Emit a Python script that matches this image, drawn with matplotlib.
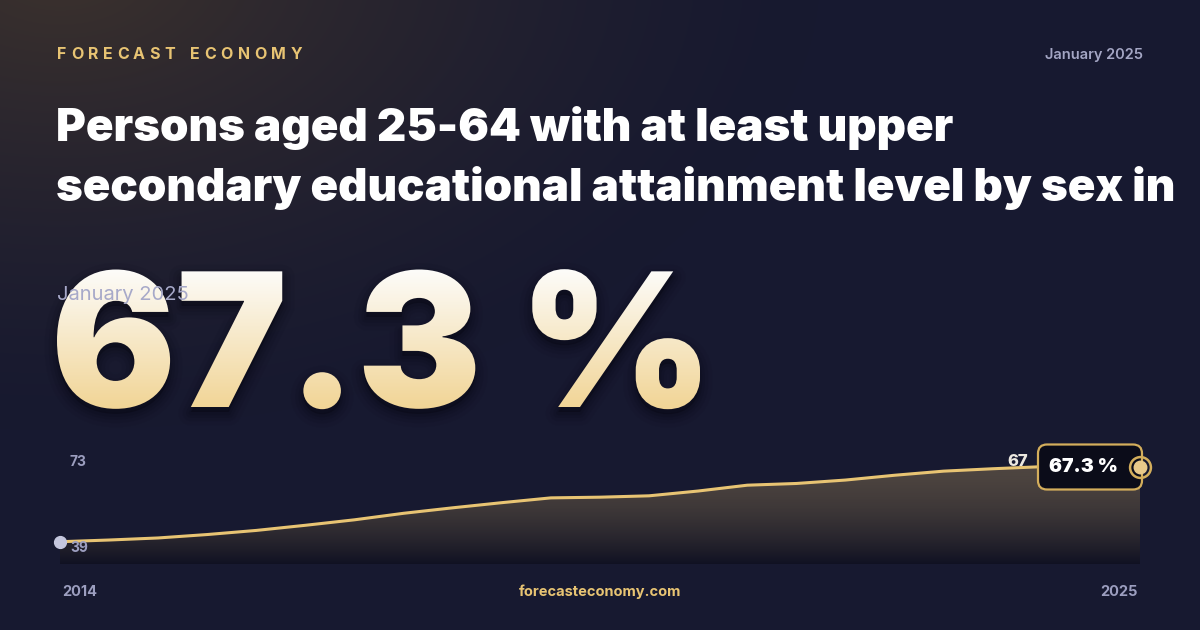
import numpy as np
import matplotlib
matplotlib.use("Agg")
import matplotlib.pyplot as plt
from matplotlib.textpath import TextPath
from matplotlib.font_manager import FontProperties
from matplotlib.patches import PathPatch, FancyBboxPatch, Polygon
from matplotlib.transforms import Affine2D

# ---------------- data ----------------
periods = ["2014-01", "2014-07", "2015-01", "2015-07", "2016-01", "2016-07",
           "2017-01", "2017-07", "2018-01", "2018-07", "2019-01", "2019-07",
           "2020-01", "2020-07", "2021-01", "2021-07", "2022-01", "2022-07",
           "2023-01", "2023-07", "2024-01", "2024-07", "2025-01"]
values = [45.5, 46.0, 46.6, 47.6, 48.8, 50.3,
          51.9, 53.8, 55.4, 56.9, 58.3, 58.5,
          58.9, 60.3, 62.0, 62.5, 63.5, 64.9,
          66.1, 66.8, 67.4, 67.3, 67.3]
y_axis_labels = [39, 73]
x_axis_labels = ["2014", "2025"]
headline_value = "67.3 %"
last_label = "67"
brand = "FORECAST ECONOMY"
date_label = "January 2025"
title_lines = ["Persons aged 25-64 with at least upper",
               "secondary educational attainment level by sex in"]
site = "forecasteconomy.com"

# ---------------- style ----------------
W, H = 1200, 630
GOLD = "#e8c473"
GREY = "#9c9ebf"
FONT = "Inter"

fig = plt.figure(figsize=(12, 6.3), dpi=100)
bg = fig.add_axes([0, 0, 1, 1])
bg.set_xlim(0, W)
bg.set_ylim(H, 0)
bg.axis("off")

# background with warm glow top-left
yy, xx = np.mgrid[0:H, 0:W]
base = np.array([23, 25, 48]) / 255
glow = np.array([60, 50, 45]) / 255
d = np.sqrt(((xx - 60) / 760.0) ** 2 + ((yy + 30) / 460.0) ** 2)
t = np.clip(1 - d, 0, 1) ** 1.4
img = base[None, None, :] * (1 - t[..., None]) + glow[None, None, :] * t[..., None]
bg.imshow(img, extent=(0, W, H, 0), aspect="auto", zorder=0, interpolation="bilinear")

renderer = fig.canvas.get_renderer()


def fit_text(txt, target_w):
    bb = txt.get_window_extent(renderer)
    txt.set_fontsize(txt.get_fontsize() * target_w / bb.width)


# brand with letter spacing
fp_brand = dict(fontsize=11.5, fontweight="bold", family=FONT, color=GOLD)
widths = []
for ch in brand:
    if ch == " ":
        widths.append(None)
        continue
    tt = bg.text(0, 0, ch, **fp_brand)
    widths.append(tt.get_window_extent(renderer).width)
    tt.remove()
space_w = 6
sum_w = sum(w if w is not None else space_w for w in widths)
track = (302 - 57 - sum_w) / (len(brand) - 1)
xpos = 57
for ch, w in zip(brand, widths):
    if w is None:
        xpos += space_w + track
        continue
    bg.text(xpos, 59, ch, va="baseline", ha="left", zorder=5, **fp_brand)
    xpos += w + track

bg.text(1143, 59, date_label, ha="right", va="baseline", fontsize=10.5,
        fontweight="semibold", family=FONT, color="#a4a6c4", zorder=5)

# title
t1 = bg.text(56, 141, title_lines[0], ha="left", va="baseline", fontsize=29.5,
             fontweight=900, family=FONT, color="#ffffff", zorder=5)
t2 = bg.text(56, 201, title_lines[1], ha="left", va="baseline", fontsize=29.5,
             fontweight=900, family=FONT, color="#ffffff", zorder=5)
fit_text(t2, 1117)
t1.set_fontsize(t2.get_fontsize())

# big number with vertical gradient
fp_big = FontProperties(family=FONT, weight=900)
tp = TextPath((0, 0), headline_value, size=100, prop=fp_big)
ext = tp.get_extents()
scale = (700 - 57) / ext.width
tr = Affine2D().translate(-ext.x0, 0).scale(scale, -scale).translate(57, 407)
big_path = tr.transform_path(tp)
# soft shadow
for lw, a in [(18, 0.05), (12, 0.07), (7, 0.09), (3, 0.12)]:
    sh = PathPatch(Affine2D().translate(0, 6).transform_path(big_path), fc=(0, 0, 0, 0.0),
                   ec=(0.02, 0.02, 0.06, a), lw=lw, joinstyle="round",
                   transform=bg.transData, zorder=2)
    bg.add_patch(sh)
bg.add_patch(PathPatch(Affine2D().translate(0, 5).transform_path(big_path),
                       fc=(0.02, 0.02, 0.06, 0.35), ec="none", transform=bg.transData, zorder=2))
patch = PathPatch(big_path, fc="none", ec="none", transform=bg.transData, zorder=3)
bg.add_patch(patch)
bb = big_path.get_extents()
n = 256
top_c = np.array([253, 253, 252]) / 255
bot_c = np.array([241, 212, 148]) / 255
s = np.linspace(0, 1, n)[:, None]
grad = top_c * (1 - s) + bot_c * s
grad_img = np.repeat(grad[:, None, :], 2, axis=1)
gim = bg.imshow(grad_img, extent=(bb.x0 - 2, bb.x1 + 2, bb.y1 + 2, bb.y0 - 2),
                aspect="auto", zorder=3, interpolation="bilinear")
gim.set_clip_path(patch)

bg.text(57, 295, date_label, ha="left", va="center", fontsize=14.5,
        fontweight="normal", family=FONT, color="#a7a9c9", zorder=6)

# ---------------- chart ----------------
y_lo, y_hi = y_axis_labels
ax = fig.add_axes([60 / W, (H - 564) / H, 1080 / W, (564 - 447.5) / H])
ax.set_xlim(2014, 2025)
ax.set_ylim(y_lo, y_hi)
ax.axis("off")
ax.patch.set_alpha(0)

x = [int(p[:4]) + (int(p[5:]) - 1) / 12 for p in periods]

verts = [(x[0], y_lo)] + list(zip(x, values)) + [(x[-1], y_lo)]
area = Polygon(verts, closed=True, fc="none", ec="none", transform=ax.transData)
ax.add_patch(area)
m = 256
s = np.linspace(0, 1, m)[:, None]
c_top = np.array([232 / 255, 194 / 255, 112 / 255, 0.27])
c_bot = np.array([8 / 255, 8 / 255, 18 / 255, 0.45])
agrad = c_top * (1 - s) + c_bot * s
aim = ax.imshow(agrad[:, None, :].repeat(2, axis=1), extent=(x[0], x[-1], y_lo, max(values)),
                aspect="auto", zorder=1, interpolation="bilinear")
aim.set_clip_path(area)

ax.plot(x, values, color=GOLD, lw=2.2, solid_capstyle="round", zorder=3, clip_on=False)
ax.plot(x[0], values[0], "o", ms=8.5, color="#c5c7de", zorder=6, clip_on=False)

# value box
box = FancyBboxPatch((1038, 444.5), 104, 45, boxstyle="round,pad=0,rounding_size=9",
                     fc="#0b0c19", ec="#d4ae5c", lw=1.6, transform=bg.transData,
                     zorder=4, clip_on=False)
ax.add_patch(box)
ax.text(1083, 467, headline_value, transform=bg.transData, ha="center", va="center",
        fontsize=14, fontweight=900, family=FONT, color="#ffffff", zorder=5)
ax.plot(x[-1], values[-1], "o", ms=15, mfc="none", mec="#d4ae5c", mew=1.8, zorder=6, clip_on=False)
ax.plot(x[-1], values[-1], "o", ms=9, color="#e8c98a", zorder=6, clip_on=False)
ax.text(1028, 462, last_label, transform=bg.transData, ha="right", va="center",
        fontsize=12, fontweight="heavy", family=FONT, color="#ece8e0", zorder=5)

# axis labels
bg.text(70, 462, str(y_hi), ha="left", va="center", fontsize=10, fontweight="bold",
        family=FONT, color=GREY, zorder=5)
ax.text(70, 548, str(y_lo), transform=bg.transData, ha="left", va="center", fontsize=10,
        fontweight="bold", family=FONT, color=GREY, zorder=7)
bg.text(62, 592, x_axis_labels[0], ha="left", va="center", fontsize=10.5, fontweight="bold",
        family=FONT, color=GREY, zorder=5)
bg.text(1138, 592, x_axis_labels[1], ha="right", va="center", fontsize=10.5, fontweight="bold",
        family=FONT, color=GREY, zorder=5)
bg.text(600, 592, site, ha="center", va="center", fontsize=10.5, fontweight="bold",
        family=FONT, color=GOLD, zorder=5)

fig.savefig("out.png", dpi=100, facecolor="#171930")
